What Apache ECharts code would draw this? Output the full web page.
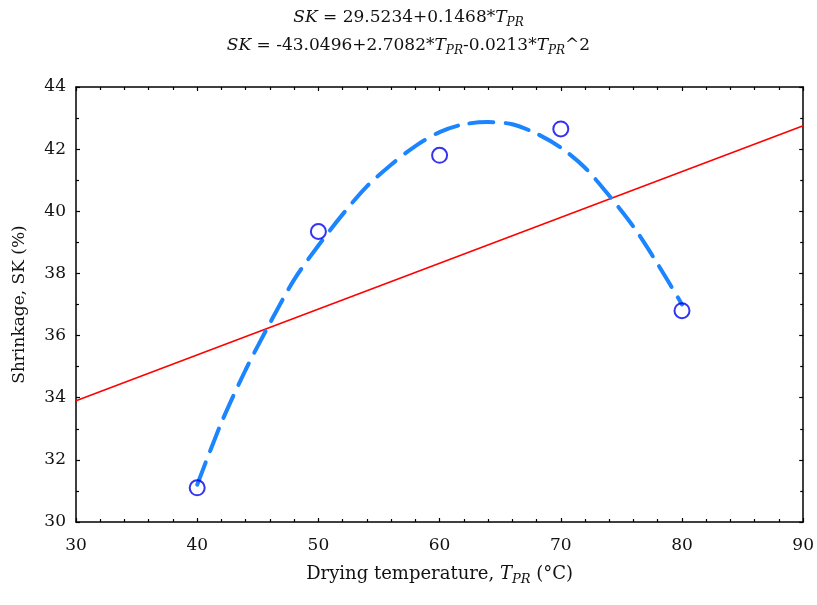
<!DOCTYPE html>
<html>
<head>
<meta charset="utf-8">
<script src="https://cdn.jsdelivr.net/npm/echarts@6/dist/echarts.min.js"></script>
<style>
  html, body { margin: 0; padding: 0; background: #fff; }
  #main { width: 817px; height: 605px; }
</style>
</head>
<body>
<div id="main"></div>
<script>
// measured points
var tempData = [40, 50, 60, 70, 80];
var shrinkData = [31.1, 39.35, 41.8, 42.65, 36.8];

// linear fit at both ends of the axis
var linX = [30, 90];
var linY = [33.9, 42.75];

// quadratic fit curve
var quadX = [40, 42, 44, 46, 48, 50, 52, 54, 56, 58, 60, 62, 64, 66, 68, 70, 72, 74, 76, 78, 80];
var quadY = [31.2, 33.2, 34.9, 36.4, 37.8, 38.9, 39.9, 40.8, 41.5, 42.1, 42.55, 42.8, 42.87, 42.8, 42.5, 42.05, 41.4, 40.5, 39.5, 38.3, 37.0];

var serif = 'DejaVu Serif';

function pairs(xs, ys) {
    return xs.map(function (x, i) { return [x, ys[i]]; });
}

var myChart = echarts.init(document.getElementById('main'));

function richText(size) {
    return {
        i: { fontStyle: 'italic', fontWeight: 'normal', fontFamily: serif, fontSize: size, color: '#111' },
        s: { fontStyle: 'italic', fontWeight: 'normal', fontFamily: serif, fontSize: size - 5, color: '#111', padding: [10, 0, 0, 0] },
        n: { fontWeight: 'normal', fontFamily: serif, fontSize: size, color: '#111' }
    };
}

var axisCommon = {
    axisLine: { show: true, onZero: false, lineStyle: { color: '#000', width: 1.5 } },
    axisTick: { show: true, inside: true, length: 4, lineStyle: { color: '#000', width: 1.2 } },
    minorTick: { show: true, splitNumber: 5, length: 3, lineStyle: { color: '#000', width: 1.2 } },
    splitLine: { show: false }
};

var option = {
    backgroundColor: '#fff',
    animation: false,
    title: [{
        text: '{i|SK}{n| = 29.5234+0.1468*}{i|T}{s|PR}',
        left: 'center',
        top: 2,
        textStyle: { fontWeight: 'normal', rich: richText(17) }
    }, {
        text: '{i|SK}{n| = -43.0496+2.7082*}{i|T}{s|PR}{n|-0.0213*}{i|T}{s|PR}{n|^2}',
        left: 'center',
        top: 30,
        textStyle: { fontWeight: 'normal', rich: richText(17) }
    }],
    grid: { left: 76, right: 12, top: 87, bottom: 83 },
    xAxis: [
        Object.assign({}, axisCommon, {
            type: 'value', position: 'bottom', min: 30, max: 90, interval: 10,
            name: '{n|Drying temperature, }{i|T}{s|PR}{n| (\u00B0C)}',
            nameLocation: 'middle', nameGap: 41,
            nameTextStyle: { rich: richText(18) },
            axisLabel: { margin: 15, fontFamily: serif, fontSize: 17, color: '#111' }
        }),
        Object.assign({}, axisCommon, {
            type: 'value', position: 'top', min: 30, max: 90, interval: 10,
            axisLabel: { show: false }
        })
    ],
    yAxis: [
        Object.assign({}, axisCommon, {
            type: 'value', position: 'left', min: 30, max: 44, interval: 2,
            minorTick: Object.assign({}, axisCommon.minorTick, { splitNumber: 2 }),
            name: '{n|Shrinkage, SK (%)}',
            nameLocation: 'middle', nameGap: 48,
            nameTextStyle: { rich: richText(17) },
            axisLabel: { margin: 10, fontFamily: serif, fontSize: 17, color: '#111' }
        }),
        Object.assign({}, axisCommon, {
            type: 'value', position: 'right', min: 30, max: 44, interval: 2,
            minorTick: Object.assign({}, axisCommon.minorTick, { splitNumber: 2 }),
            axisLabel: { show: false }
        })
    ],
    series: [{
        name: 'linear',
        type: 'line',
        data: pairs(linX, linY),
        showSymbol: false,
        lineStyle: { color: '#ff0000', width: 1.6 },
        z: 2
    }, {
        name: 'quadratic',
        type: 'line',
        data: pairs(quadX, quadY),
        smooth: 0.3,
        showSymbol: false,
        lineStyle: { color: '#1a85ff', width: 4, type: [24, 12], cap: 'round' },
        z: 3
    }, {
        name: 'data',
        type: 'scatter',
        data: pairs(tempData, shrinkData),
        symbol: 'circle',
        symbolSize: 15,
        itemStyle: { color: 'rgba(0,0,0,0)', borderColor: '#0000ee', borderWidth: 2 },
        z: 4
    }]
};

myChart.setOption(option);
</script>
</body>
</html>
